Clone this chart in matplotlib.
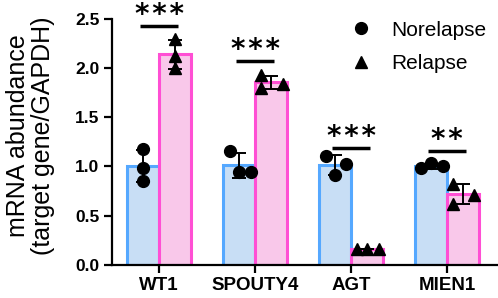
import matplotlib
import numpy as np
from matplotlib import pyplot as plt
from matplotlib.lines import Line2D

matplotlib.rc('font', family='Liberation Sans')

genes = ['WT1', 'SPOUTY4', 'AGT', 'MIEN1']
norelapse = [[1.18, 0.98, 0.85],
             [1.16, 0.94, 0.94],
             [1.11, 0.91, 1.02],
             [0.98, 1.03, 1.00]]
relapse = [[2.30, 2.12, 2.00],
           [1.93, 1.80, 1.84],
           [0.16, 0.16, 0.16],
           [0.82, 0.62, 0.71]]
stars = ['***', '***', '***', '**']
sig_line_y = [2.43, 2.07, 1.19, 1.16]

# point jitter inside each bar (x offsets)
jit_norelapse = [[0, 0, 0], [-0.1, 0, 0.12], [-0.1, 0, 0.11], [-0.11, 0, 0.12]]
jit_relapse = [[0, 0, 0], [-0.1, -0.1, 0.12], [-0.11, 0, 0.12], [-0.11, -0.11, 0.11]]

blue_face, blue_edge = '#c8def5', '#55a8ff'
pink_face, pink_edge = '#f9c8ea', '#ff4fd4'

fig = plt.figure(figsize=(4.98, 2.98), dpi=100)
ax = fig.add_axes([0.225, 0.112, 0.773, 0.824])

x = np.arange(len(genes))
w = 0.333


def draw_group(data, jit, offset, face, edge, marker):
    means = [np.mean(d) for d in data]
    sds = [np.std(d, ddof=1) for d in data]
    ax.bar(x + offset, means, width=w, color=face, edgecolor=edge, linewidth=2.2, zorder=1)
    ax.errorbar(x + offset, means, yerr=sds, fmt='none', ecolor='black',
                elinewidth=1.4, capsize=5, capthick=1.4, zorder=3)
    for i, d in enumerate(data):
        ax.plot(x[i] + offset + np.array(jit[i]), d, linestyle='none', marker=marker,
                color='black', markersize=8.5, zorder=4, clip_on=False)


draw_group(norelapse, jit_norelapse, -w / 2, blue_face, blue_edge, 'o')
draw_group(relapse, jit_relapse, w / 2, pink_face, pink_edge, '^')

for i in range(len(genes)):
    ax.plot([x[i] - 0.2, x[i] + 0.2], [sig_line_y[i], sig_line_y[i]], color='black',
            linewidth=2.5, clip_on=False, solid_capstyle='butt')
    ax.text(x[i], sig_line_y[i] + 0.03, '\u200a'.join(stars[i]), ha='center', va='baseline',
            fontsize=20, fontweight='bold', family='DejaVu Sans', clip_on=False)

ax.set_xlim(-0.49, 3.52)
ax.set_ylim(0, 2.5)
ax.set_yticks([0, 0.5, 1.0, 1.5, 2.0, 2.5])
ax.set_yticklabels(['0.0', '0.5', '1.0', '1.5', '2.0', '2.5'])
ax.set_xticks(x)
ax.set_xticklabels(genes)
for lab in ax.get_xticklabels():
    lab.set_fontweight('bold')
    lab.set_fontsize(13.5)
for lab in ax.get_yticklabels():
    lab.set_fontweight('bold')
    lab.set_fontsize(12.5)
ax.tick_params(width=1.6, length=6, pad=3)
for s in ['top', 'right']:
    ax.spines[s].set_visible(False)
for s in ['left', 'bottom']:
    ax.spines[s].set_linewidth(1.6)

ax.set_ylabel('mRNA abundance\n(target gene/GAPDH)', fontsize=18, linespacing=1.05)
ax.yaxis.set_label_coords(-0.148, 0.525)

handles = [Line2D([], [], linestyle='none', marker='o', color='black', markersize=8.5),
           Line2D([], [], linestyle='none', marker='^', color='black', markersize=8.5)]
ax.legend(handles, ['Norelapse', 'Relapse'], loc='upper right', frameon=False,
          fontsize=15, bbox_to_anchor=(1.02, 1.07), handletextpad=0.44, labelspacing=0.7)

fig.savefig('out.png', dpi=100)
